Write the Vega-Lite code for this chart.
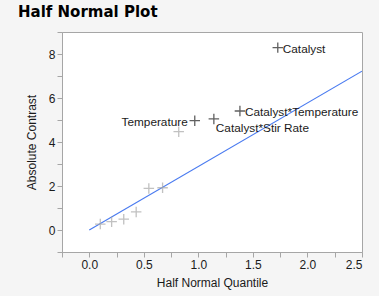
{
  "$schema": "https://vega.github.io/schema/vega-lite/v6.json",
  "autosize": "none",
  "width": 300,
  "height": 220,
  "padding": {"left": 62, "top": 32, "right": 17, "bottom": 44},
  "background": "#f5f5f5",
  "title": {
    "text": "Half Normal Plot",
    "anchor": "start",
    "frame": "group",
    "dx": -44,
    "offset": 12,
    "font": "DejaVu Sans",
    "fontSize": 15,
    "fontWeight": "bold",
    "color": "#000000"
  },
  "config": {
    "view": {"fill": "#ffffff", "stroke": "#a6a6a6", "strokeWidth": 1},
    "axis": {
      "labelFont": "Liberation Sans",
      "titleFont": "Liberation Sans",
      "labelFontSize": 12,
      "titleFontSize": 12,
      "titleFontWeight": "normal",
      "labelColor": "#1a1a1a",
      "titleColor": "#1a1a1a",
      "domainColor": "#a6a6a6",
      "tickColor": "#a6a6a6",
      "tickSize": 5,
      "grid": false
    }
  },
  "datasets": {
    "effects": [
      {"quantile": 0.101, "contrast": 0.27, "term": ""},
      {"quantile": 0.205, "contrast": 0.38, "term": ""},
      {"quantile": 0.316, "contrast": 0.49, "term": ""},
      {"quantile": 0.43, "contrast": 0.82, "term": ""},
      {"quantile": 0.546, "contrast": 1.89, "term": ""},
      {"quantile": 0.672, "contrast": 1.92, "term": ""},
      {"quantile": 0.82, "contrast": 4.47, "term": ""},
      {"quantile": 0.967, "contrast": 4.97, "term": "Temperature"},
      {"quantile": 1.142, "contrast": 5.05, "term": "Catalyst*Stir Rate"},
      {"quantile": 1.381, "contrast": 5.41, "term": "Catalyst*Temperature"},
      {"quantile": 1.728, "contrast": 8.29, "term": "Catalyst"}
    ],
    "fit": [
      {"quantile": 0, "contrast": 0},
      {"quantile": 2.5, "contrast": 7.22}
    ]
  },
  "encoding": {
    "x": {
      "field": "quantile", "type": "quantitative",
      "scale": {"domain": [-0.25, 2.5], "nice": false, "zero": false},
      "axis": {
        "title": "Half Normal Quantile",
        "values": [-0.25, 0, 0.25, 0.5, 0.75, 1, 1.25, 1.5, 1.75, 2, 2.25, 2.5],
        "labelExpr": "(datum.value * 2) % 1 == 0 && datum.value >= 0 ? format(datum.value, '.1f') : ''",
        "titlePadding": 7
      }
    },
    "y": {
      "field": "contrast", "type": "quantitative",
      "scale": {"domain": [-1, 9], "nice": false, "zero": false},
      "axis": {
        "title": "Absolute Contrast",
        "values": [-1, 0, 1, 2, 3, 4, 5, 6, 7, 8, 9],
        "labelExpr": "datum.value % 2 == 0 && datum.value < 9 ? datum.value : ''",
        "titlePadding": 10
      }
    }
  },
  "layer": [
    {
      "data": {"name": "fit"},
      "mark": {"type": "line", "color": "#4a7bf0", "strokeWidth": 1.2, "clip": true}
    },
    {
      "data": {"name": "effects"},
      "mark": {"type": "point", "shape": "M-1,0H1M0,-1V1", "filled": false, "size": 110, "strokeWidth": 1.3},
      "encoding": {
        "color": {"condition": {"test": "datum.term != ''", "value": "#1e1e1e"}, "value": "#a8a8a8"}
      }
    },
    {
      "data": {"name": "effects"},
      "transform": [{"filter": "datum.term == 'Temperature'"}],
      "mark": {"type": "text", "align": "right", "baseline": "middle", "dx": -7, "dy": 1, "font": "Liberation Sans", "fontSize": 11.8, "color": "#1a1a1a"},
      "encoding": {"text": {"field": "term"}}
    },
    {
      "data": {"name": "effects"},
      "transform": [{"filter": "datum.term == 'Catalyst' || datum.term == 'Catalyst*Temperature'"}],
      "mark": {"type": "text", "align": "left", "baseline": "middle", "dx": 5, "dy": 1, "font": "Liberation Sans", "fontSize": 11.8, "color": "#1a1a1a"},
      "encoding": {"text": {"field": "term"}}
    },
    {
      "data": {"name": "effects"},
      "transform": [{"filter": "datum.term == 'Catalyst*Stir Rate'"}],
      "mark": {"type": "text", "align": "left", "baseline": "middle", "dx": 2, "dy": 9, "font": "Liberation Sans", "fontSize": 11.8, "color": "#1a1a1a"},
      "encoding": {"text": {"field": "term"}}
    }
  ]
}
